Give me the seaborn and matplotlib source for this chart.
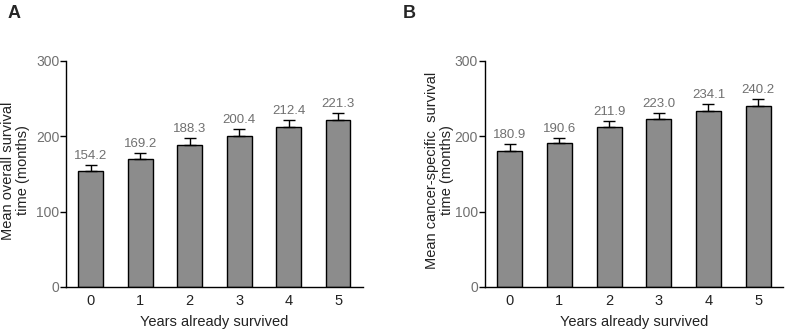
import pandas as pd
import matplotlib.pyplot as plt
import seaborn as sns

# values
years = [0, 1, 2, 3, 4, 5]
overall_mean = [154.2, 169.2, 188.3, 200.4, 212.4, 221.3]
overall_err = [8, 8, 9, 9, 9, 10]
cancer_mean = [180.9, 190.6, 211.9, 223.0, 234.1, 240.2]
cancer_err = [8.5, 7.5, 8, 8, 8.5, 9]

sns.set_style("ticks")
plt.rcParams['font.family'] = ['Liberation Sans', 'DejaVu Sans']

fig = plt.figure(figsize=(7.87, 3.31), dpi=100)
axA = fig.add_axes([0.084, 0.133, 0.377, 0.683])
axB = fig.add_axes([0.616, 0.133, 0.379, 0.683])

panels = [
    (axA, overall_mean, overall_err, "Mean overall survival\ntime (months)", "A", 0.010, 0.020),
    (axB, cancer_mean, cancer_err, "Mean cancer-specific  survival\ntime (months)", "B", 0.512, 0.558),
]

for ax, means, errs, ylab, letter, lx, ylx in panels:
    df = pd.DataFrame({'year': years, 'mean': means, 'err': errs})
    sns.barplot(data=df, x='year', y='mean', ax=ax, color='#8c8c8c',
                saturation=1, width=0.5, edgecolor='black', linewidth=1.0,
                errorbar=None)
    ax.errorbar(range(len(years)), means, yerr=[[0] * len(errs), errs],
                fmt='none', ecolor='black', elinewidth=1.0, capsize=4.5, capthick=1.0)
    for i, v in enumerate(means):
        ax.text(i, v + errs[i] + 4, f"{v:.1f}", ha='center', va='bottom',
                fontsize=9.5, color='#707070')
    ax.set_xlim(-0.5, 5.5)
    ax.set_ylim(0, 300)
    ax.set_yticks([0, 100, 200, 300])
    ax.tick_params(axis='y', colors='black', labelcolor='#707070', labelsize=10,
                   length=4, width=1, pad=1)
    ax.tick_params(axis='x', length=0, labelsize=10.5, labelcolor='#222222', pad=5)
    ax.set_xlabel("Years already survived", fontsize=10.5, color='#222222', labelpad=5)
    ax.set_ylabel("")
    fig.text(ylx, 0.485, ylab, rotation=90, ha='center', va='center',
             multialignment='center', fontsize=10.5, color='#222222', linespacing=1.1)
    for s in ['left', 'bottom']:
        ax.spines[s].set_linewidth(1.0)
        ax.spines[s].set_color('black')
    sns.despine(ax=ax)
    fig.text(lx, 0.985, letter, fontsize=13, fontweight='bold', va='top')

fig.savefig('out.png', dpi=100)
